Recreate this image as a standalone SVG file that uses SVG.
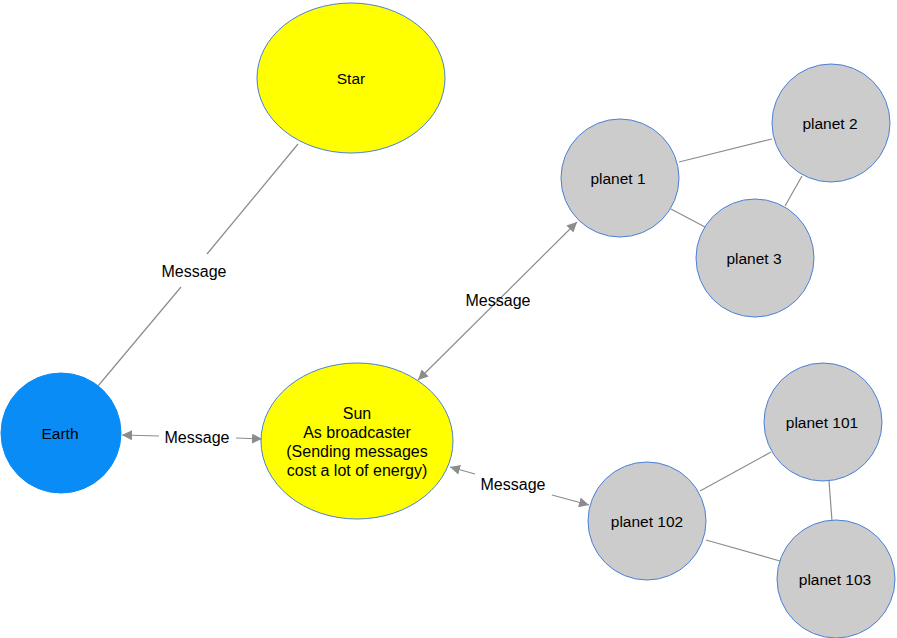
<svg xmlns="http://www.w3.org/2000/svg" width="897" height="638" viewBox="0 0 897 638">
<style>
.node{stroke:#4a80d8;stroke-width:1}
.yellow{fill:#ffff00}
.earth{fill:#0a8cf6;stroke:#0a8cf6}
.planet{fill:#cccccc}
text{font-family:"Liberation Sans",Arial,sans-serif;fill:#000;text-anchor:middle}
.t{font-size:15.5px}
.m{font-size:16px}
.edge{stroke:#8c8c8c;stroke-width:1.2;fill:none}
</style>
<defs>
<marker id="arr" viewBox="0 0 10 10" refX="10" refY="5" markerWidth="10" markerHeight="10" markerUnits="userSpaceOnUse" orient="auto-start-reverse">
<path d="M0,0 L10,5 L0,10 z" fill="#8c8c8c"/>
</marker>
</defs>
<g id="connectors">
<line class="edge" x1="298" y1="144" x2="207" y2="254"/>
<line class="edge" x1="181" y1="287" x2="98" y2="386"/>
<line class="edge" x1="122" y1="435" x2="159" y2="436" marker-start="url(#arr)"/>
<line class="edge" x1="236" y1="438" x2="262" y2="439" marker-end="url(#arr)"/>
<line class="edge" x1="418" y1="380" x2="577" y2="222" marker-start="url(#arr)" marker-end="url(#arr)"/>
<line class="edge" x1="450" y1="467" x2="475" y2="474" marker-start="url(#arr)"/>
<line class="edge" x1="552" y1="495" x2="589" y2="505" marker-end="url(#arr)"/>
<line class="edge" x1="679" y1="162" x2="772" y2="139"/>
<line class="edge" x1="671" y1="209" x2="705" y2="227"/>
<line class="edge" x1="802" y1="176" x2="785" y2="206"/>
<line class="edge" x1="771" y1="452" x2="700" y2="491"/>
<line class="edge" x1="829" y1="481" x2="832" y2="521"/>
<line class="edge" x1="706" y1="540" x2="780" y2="561"/>
<text class="m" x="194" y="277">Message</text>
<text class="m" x="197" y="443">Message</text>
<text class="m" x="498" y="306">Message</text>
<text class="m" x="513" y="490">Message</text>
</g>
<g id="star">
<ellipse class="node yellow" cx="351" cy="78" rx="94" ry="75"/>
<text class="t" x="351" y="84">Star</text>
</g>
<g id="earth">
<circle class="earth" cx="61" cy="433" r="60"/>
<text class="t" x="60" y="439">Earth</text>
</g>
<g id="sun">
<ellipse class="node yellow" cx="357" cy="441" rx="96" ry="78"/>
<text class="m" x="357" y="419">Sun</text>
<text class="m" x="357" y="438">As broadcaster</text>
<text class="m" x="357" y="457">(Sending messages</text>
<text class="m" x="357" y="476">cost a lot of energy)</text>
</g>
<g id="planet1">
<circle class="node planet" cx="620" cy="178" r="59"/>
<text class="t" x="618" y="184">planet 1</text>
</g>
<g id="planet2">
<circle class="node planet" cx="831" cy="123" r="59"/>
<text class="t" x="830" y="129">planet 2</text>
</g>
<g id="planet3">
<circle class="node planet" cx="755" cy="258" r="59"/>
<text class="t" x="754" y="264">planet 3</text>
</g>
<g id="planet101">
<circle class="node planet" cx="823" cy="422" r="59"/>
<text class="t" x="822" y="428">planet 101</text>
</g>
<g id="planet102">
<circle class="node planet" cx="647" cy="521" r="59"/>
<text class="t" x="647" y="527">planet 102</text>
</g>
<g id="planet103">
<circle class="node planet" cx="836" cy="579" r="59"/>
<text class="t" x="835" y="585">planet 103</text>
</g>
</svg>
